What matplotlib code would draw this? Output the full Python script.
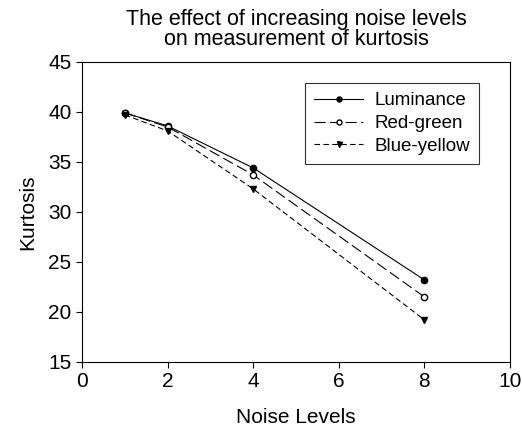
import matplotlib
matplotlib.use('Agg')
import matplotlib.pyplot as plt

plt.rcParams['font.family'] = ['Liberation Sans', 'DejaVu Sans']

# noise levels and kurtosis per channel
noise = [1, 2, 4, 8]
luminance = [39.9, 38.6, 34.4, 23.2]
red_green = [39.9, 38.5, 33.7, 21.5]
blue_yellow = [39.7, 38.1, 32.3, 19.2]

fig = plt.figure(figsize=(5.22, 4.36), dpi=100)
ax = fig.add_axes([0.157, 0.170, 0.820, 0.688])

ax.plot(noise, luminance, color='black', lw=0.8, ls='-',
        marker='o', ms=4.5, mfc='black', mec='black', label='Luminance')
ax.plot(noise, red_green, color='black', lw=0.8, ls=(0, (10, 4)),
        marker='o', ms=4.5, mfc='white', mec='black', label='Red-green')
ax.plot(noise, blue_yellow, color='black', lw=0.8, ls=(0, (5, 3)),
        marker='v', ms=4.5, mfc='black', mec='black', label='Blue-yellow')

ax.set_xlim(0, 10)
ax.set_ylim(15, 45)
ax.set_xticks([0, 2, 4, 6, 8, 10])
ax.set_yticks([15, 20, 25, 30, 35, 40, 45])
ax.tick_params(direction='out', labelsize=15, length=4, width=0.8)
for s in ax.spines.values():
    s.set_linewidth(0.8)

ax.set_xlabel('Noise Levels', fontsize=15, labelpad=12)
ax.set_ylabel('Kurtosis', fontsize=15, labelpad=8)
ax.set_title('The effect of increasing noise levels\non measurement of kurtosis',
             fontsize=15.5, pad=12, linespacing=0.95)

leg = ax.legend(loc='upper right', bbox_to_anchor=(0.928, 0.93), fontsize=13.5,
                frameon=True, fancybox=False, edgecolor='black',
                handlelength=2.6, borderpad=0.5, labelspacing=0.3,
                handletextpad=0.6, borderaxespad=0, markerscale=0.8)
leg.get_frame().set_linewidth(0.8)

fig.savefig('out.png', dpi=100)
